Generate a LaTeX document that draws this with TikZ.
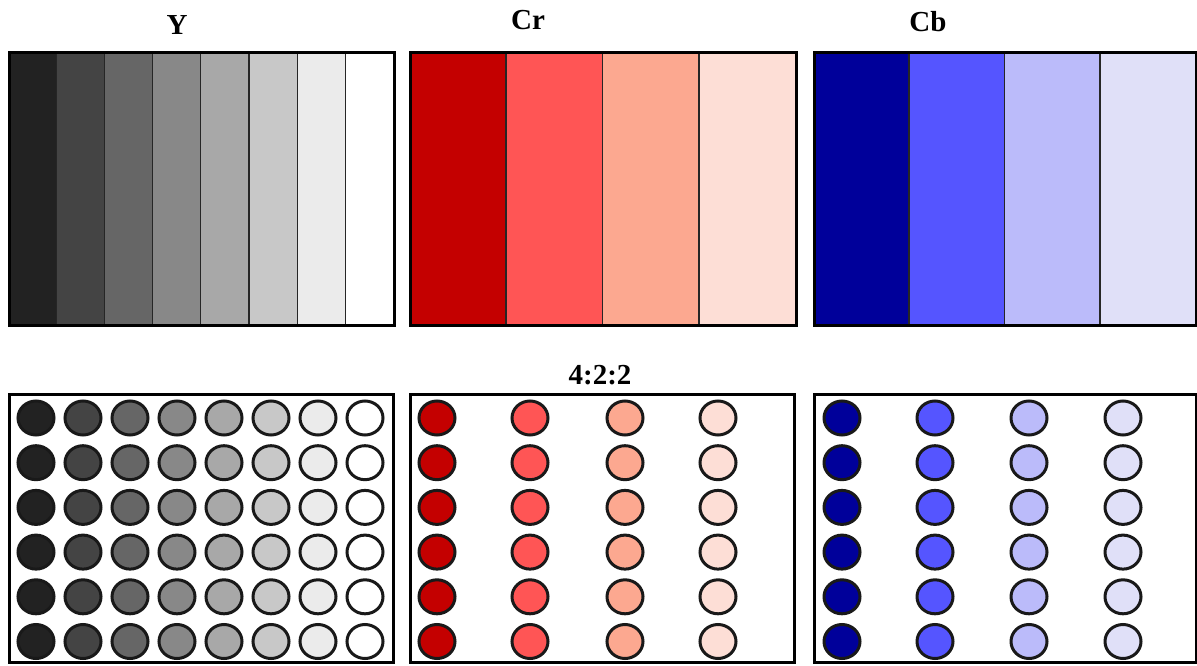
\documentclass[tikz,border=0pt]{standalone}
\usepackage{fontspec}
\setmainfont{Liberation Serif}
\begin{document}
\begin{tikzpicture}[x=1pt,y=-1pt,
  frame/.style={draw=black,line width=3pt},
  stripe/.style={draw=black!85,line width=2.2pt},
  dot/.style={draw=black!90,line width=3pt},
  lbl/.style={font=\bfseries\fontsize{29}{30}\selectfont,inner sep=0pt}]
\useasboundingbox[fill=white] (0,0) rectangle (1197,666);
% colours
\definecolor{g1}{HTML}{222222}\definecolor{g2}{HTML}{444444}
\definecolor{g3}{HTML}{666666}\definecolor{g4}{HTML}{888888}
\definecolor{g5}{HTML}{A8A8A8}\definecolor{g6}{HTML}{C8C8C8}
\definecolor{g7}{HTML}{EBEBEB}\definecolor{g8}{HTML}{FFFFFF}
\definecolor{r1}{HTML}{C40000}\definecolor{r2}{HTML}{FF5555}
\definecolor{r3}{HTML}{FCA890}\definecolor{r4}{HTML}{FDDED6}
\definecolor{b1}{HTML}{00009A}\definecolor{b2}{HTML}{5555FF}
\definecolor{b3}{HTML}{BBBBFA}\definecolor{b4}{HTML}{E0E0F8}
% labels
\node[lbl] (ly) at (177,25) {Y};
\node[lbl] (lr) at (528,20) {Cr};
\node[lbl] (lb) at (928,22) {Cb};
\node[lbl] (l422) at (600,375) {4:2:2};
% Y stripes
\foreach \i in {1,...,8}{
  \pgfmathsetmacro{\xa}{9+(\i-1)*48.1}
  \pgfmathsetmacro{\xb}{9+\i*48.1}
  \fill[g\i] (\xa,53) rectangle (\xb,325);
  \ifnum\i<8 \draw[stripe] (\xb,53) -- (\xb,325); \fi
}
\draw[frame] (9,53) rectangle (394,325);
% Cr stripes
\foreach \i in {1,...,4}{
  \pgfmathsetmacro{\xa}{410+(\i-1)*96.5}
  \pgfmathsetmacro{\xb}{410+\i*96.5}
  \fill[r\i] (\xa,53) rectangle (\xb,325);
  \ifnum\i<4 \draw[stripe] (\xb,53) -- (\xb,325); \fi
}
\draw[frame] (410,53) rectangle (796,325);
% Cb stripes
\foreach \i in {1,...,4}{
  \pgfmathsetmacro{\xa}{814+(\i-1)*95.5}
  \pgfmathsetmacro{\xb}{814+\i*95.5}
  \fill[b\i] (\xa,53) rectangle (\xb,325);
  \ifnum\i<4 \draw[stripe] (\xb,53) -- (\xb,325); \fi
}
\draw[frame] (814,53) rectangle (1196,325);
% bottom frames
\draw[frame] (9,394) rectangle (393,662);
\draw[frame] (410,394) rectangle (794,662);
\draw[frame] (814,394) rectangle (1196,662);
% dots
\foreach \r in {0,...,5}{
  \pgfmathsetmacro{\yy}{418+\r*44.7}
  \foreach \i in {1,...,8}{
    \pgfmathsetmacro{\xx}{36+(\i-1)*47}
    \draw[dot,fill=g\i] (\xx,\yy) ellipse [x radius=18,y radius=17];
  }
  \foreach \i/\xx in {1/437,2/530,3/625,4/718}{
    \draw[dot,fill=r\i] (\xx,\yy) ellipse [x radius=18,y radius=17];
  }
  \foreach \i/\xx in {1/842,2/935,3/1029,4/1123}{
    \draw[dot,fill=b\i] (\xx,\yy) ellipse [x radius=18,y radius=17];
  }
}
\end{tikzpicture}
\end{document}
